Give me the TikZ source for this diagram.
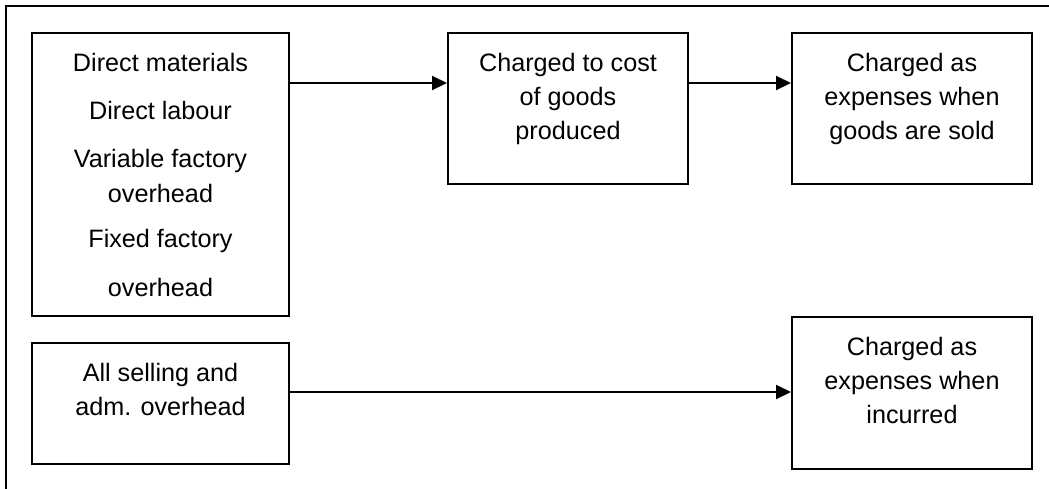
\documentclass[tikz,border=0pt]{standalone}
\usepackage{fontspec}
\setmainfont{Liberation Sans}
\usetikzlibrary{arrows.meta}
\begin{document}
\begin{tikzpicture}[x=1pt,y=-1pt,
  box/.style={draw, line width=2pt, anchor=north west, inner sep=0pt, minimum width=#1},
  txt/.style={anchor=north, align=center, inner sep=0pt,
    font=\fontsize{25.2}{34}\selectfont},
  arr/.style={line width=2pt, -{Triangle[length=15pt,width=14pt]}}]
  \useasboundingbox (0,0) rectangle (1049,488);
  \clip (0,0) rectangle (1049,488);
  % outer frame
  \draw[line width=2pt] (6,500) -- (6,6) -- (1060,6);

  % boxes
  \node[box=257pt, minimum height=283pt] (b1) at (31,32) {};
  \node[box=257pt, minimum height=121pt] (b2) at (31,342) {};
  \node[box=240pt, minimum height=151pt] (b3) at (447,32) {};
  \node[box=240pt, minimum height=151pt] (b4) at (791,32) {};
  \node[box=240pt, minimum height=152pt] (b5) at (791,316) {};

  % texts
  \node[txt, font=\fontsize{25.2}{35}\selectfont] (t1) at ([yshift=-21.5pt]b1.north)
    {Direct materials\\[13pt]Direct labour\\[13pt]Variable factory\\overhead\\[10pt]Fixed factory\\[14pt]overhead};
  \node[txt] (t2) at ([yshift=-21pt]b2.north) {All selling and\\adm. overhead};
  \node[txt] (t3) at ([yshift=-21pt]b3.north) {Charged to cost\\of goods\\produced};
  \node[txt] (t4) at ([yshift=-21pt]b4.north) {Charged as\\expenses when\\goods are sold};
  \node[txt] (t5) at ([yshift=-21.5pt]b5.north) {Charged as\\expenses when\\incurred};

  % connectors
  \coordinate (r1) at (0,83);
  \coordinate (r2) at (0,392);
  \draw[arr] (b1.east |- r1) -- (b3.west |- r1);
  \draw[arr] (b3.east |- r1) -- (b4.west |- r1);
  \draw[arr] (b2.east |- r2) -- (b5.west |- r2);
\end{tikzpicture}
\end{document}
